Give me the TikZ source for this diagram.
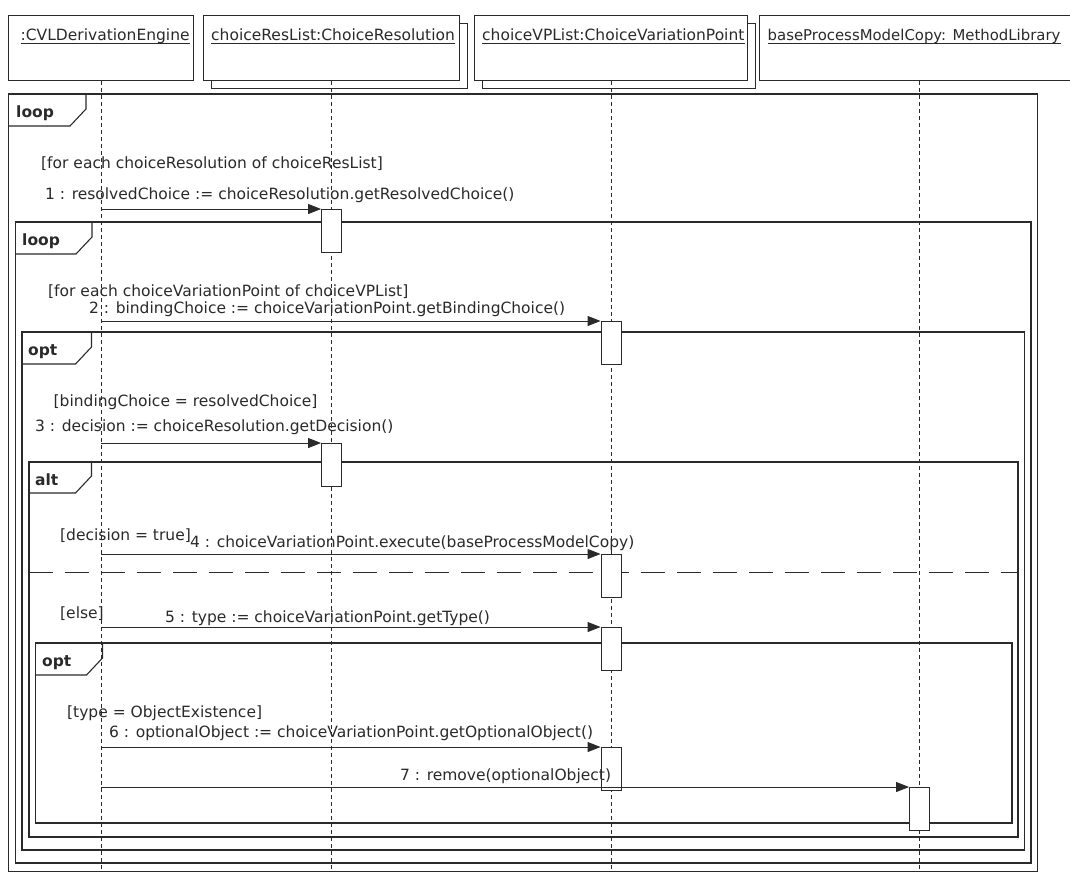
\documentclass[tikz,border=0pt]{standalone}
\usepackage{fontspec}
\setmainfont{DejaVu Sans}
\usetikzlibrary{arrows.meta}
\definecolor{ink}{HTML}{2A2A2A}

\begin{document}
\begin{tikzpicture}[
  x=1pt, y=-1pt,
  font=\fontsize{15.5}{18}\selectfont,
  objbox/.style={draw=ink, fill=white, line width=1.1pt, inner sep=0pt, anchor=north west},
  lifeline/.style={draw=ink, line width=0.9pt, dash pattern=on 4pt off 3pt},
  act/.style={draw=ink, fill=white, line width=1pt, minimum width=20pt, minimum height=43pt, inner sep=0pt, anchor=north},
  msg/.style={draw=ink, line width=0.9pt, -{Triangle[length=13pt,width=10pt]}},
  frame/.style={draw=ink, line width=1.1pt},
  tag/.style={anchor=base west, inner sep=0pt, text=ink, font=\fontsize{15.5}{18}\selectfont\bfseries},
  txt/.style={anchor=base west, inner sep=0pt, text=ink}
]
\clip (0,0) rectangle (1070,871);
\fill[white] (0,0) rectangle (1070,871);
\coordinate (floor) at (0,871);

\node[objbox, minimum width=185pt, minimum height=65pt] (eng) at (8,15) {};
\node[objbox, minimum width=256pt, minimum height=65pt] (resShadow) at (211,23) {};
\node[objbox, minimum width=256pt, minimum height=65pt] (resBox) at (203,15) {};
\node[objbox, minimum width=273pt, minimum height=65pt] (vpShadow) at (482,23) {};
\node[objbox, minimum width=273pt, minimum height=65pt] (vpBox) at (474,15) {};
\node[objbox, minimum width=320pt, minimum height=65pt] (libBox) at (759,15) {};

\node[txt] (engName) at (20.5,40) {:CVLDerivationEngine};
\node[txt] (resName) at (211,40) {choiceResList:ChoiceResolution};
\node[txt] (vpName) at (482,40) {choiceVPList:ChoiceVariationPoint};
\node[txt, font=\fontsize{14.9}{18}\selectfont] (libName) at (767.5,40) {baseProcessModelCopy: MethodLibrary};
\draw[ink, line width=0.8pt] ([yshift=-3.5pt]engName.base west) -- ([yshift=-3.5pt]engName.base east);
\draw[ink, line width=0.8pt] ([yshift=-3.5pt]resName.base west) -- ([yshift=-3.5pt]resName.base east);
\draw[ink, line width=0.8pt] ([yshift=-3.5pt]vpName.base west) -- ([yshift=-3.5pt]vpName.base east);
\draw[ink, line width=0.8pt] ([yshift=-3.5pt]libName.base west) -- ([yshift=-3.5pt]libName.base east);

\draw[lifeline] (eng.south) -- (eng.south |- floor);
\draw[lifeline] (resBox.south) -- (resBox.south |- floor);
\draw[lifeline] (vpBox.south) -- (vpBox.south |- floor);
\draw[lifeline] (libBox.south) -- (libBox.south |- floor);

\draw[frame] (8.5,94) rectangle (1037.5,871.5);
\draw[frame] (8.5,126) -- (70,126) -- (86,109) -- (86,94);
\node[tag] (loopOuter) at (16,117) {loop};

\draw[frame] (15.5,222) rectangle (1031,863);
\draw[frame] (15.5,254) -- (76,254) -- (92,237) -- (92,222);
\node[tag] (loopInner) at (22,245) {loop};

\draw[frame] (22,332) rectangle (1024.5,850);
\draw[frame] (22,364) -- (75.5,364) -- (91.5,347) -- (91.5,332);
\node[tag] (optBind) at (28,355) {opt};

\draw[frame] (29,462) rectangle (1018,837);
\draw[frame] (29,493) -- (75.5,493) -- (91.5,476) -- (91.5,462);
\node[tag] (altDecision) at (35,485) {alt};
\draw[ink, line width=1pt, dash pattern=on 24pt off 12pt] (29,572) -- (1018,572);

\draw[frame] (35.5,643) rectangle (1012,823);
\draw[frame] (35.5,675) -- (86.5,675) -- (102.5,658) -- (102.5,643);
\node[tag] (optType) at (42,666) {opt};

\node[act] (act1) at (resBox.south |- 0,209) {};
\node[act] (act2) at (vpBox.south |- 0,321) {};
\node[act] (act3) at (resBox.south |- 0,443) {};
\node[act] (act4) at (vpBox.south |- 0,554) {};
\node[act] (act5) at (vpBox.south |- 0,627) {};
\node[act] (act6) at (vpBox.south |- 0,747) {};
\node[act] (act7) at (libBox.south |- 0,787) {};

\coordinate (s1) at (eng.south |- act1.north);
\coordinate (s2) at (eng.south |- act2.north);
\coordinate (s3) at (eng.south |- act3.north);
\coordinate (s4) at (eng.south |- act4.north);
\coordinate (s5) at (eng.south |- act5.north);
\coordinate (s6) at (eng.south |- act6.north);
\coordinate (s7) at (eng.south |- act7.north);
\draw[msg] (s1) -- (act1.north west);
\draw[msg] (s2) -- (act2.north west);
\draw[msg] (s3) -- (act3.north west);
\draw[msg] (s4) -- (act4.north west);
\draw[msg] (s5) -- (act5.north west);
\draw[msg] (s6) -- (act6.north west);
\draw[msg] (s7) -- (act7.north west);

\node[txt] (g1) at (41,168) {[for each choiceResolution of choiceResList]};
\node[txt] (m1) at (45,199) {1 : resolvedChoice := choiceResolution.getResolvedChoice()};
\node[txt] (g2) at (48,296) {[for each choiceVariationPoint of choiceVPList]};
\node[txt] (m2) at (89,313) {2 : bindingChoice := choiceVariationPoint.getBindingChoice()};
\node[txt] (g3) at (53.5,406) {[bindingChoice = resolvedChoice]};
\node[txt] (m3) at (35,431) {3 : decision := choiceResolution.getDecision()};
\node[txt] (g4) at (60,540) {[decision = true]};
\node[txt] (m4) at (190,547) {4 : choiceVariationPoint.execute(baseProcessModelCopy)};
\node[txt] (g5) at (60,618) {[else]};
\node[txt] (m5) at (165,622) {5 : type := choiceVariationPoint.getType()};
\node[txt] (g6) at (67,717) {[type = ObjectExistence]};
\node[txt] (m6) at (109,737) {6 : optionalObject := choiceVariationPoint.getOptionalObject()};
\node[txt] (m7) at (400,780) {7 : remove(optionalObject)};
\end{tikzpicture}
\end{document}
